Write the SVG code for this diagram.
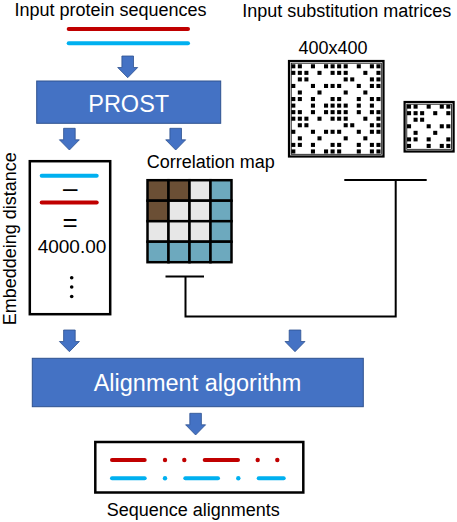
<svg xmlns="http://www.w3.org/2000/svg" xmlns:xlink="http://www.w3.org/1999/xlink" width="457" height="522" viewBox="0 0 457 522">
<style>
text{font-family:"Liberation Sans",Arial,sans-serif;fill:#000}
.lbl{font-size:18px}
.w{fill:#fff;font-size:23.5px}
.bluebox{fill:#4472C4;stroke:#2F528F;stroke-width:1}
.barrow{fill:#4472C4;stroke:#2F528F;stroke-width:0.8}
.frame{fill:#fff;stroke:#000;stroke-width:2.5}
.red{stroke:#C00000;stroke-width:4;stroke-linecap:round;fill:none}
.blue{stroke:#00B0F0;stroke-width:4;stroke-linecap:round;fill:none}
.rd{fill:#C00000}
.bd{fill:#00B0F0}
.wire{stroke:#000;stroke-width:2;fill:none}
.br{fill:#6B4F35}.gy{fill:#E7E7E7}.tl{fill:#6DA9BE}
.cell rect{stroke:#000;stroke-width:2.5}
.dots use{fill:#000}
</style>
<defs>
<path id="arr" class="barrow" d="M-5.8,0 H5.8 V11.5 H10 L0,21.7 L-10,11.5 H-5.8 Z"/>
<rect id="d" width="0.62" height="0.62"/>
</defs>
<rect width="457" height="522" fill="#fff"/>

<g id="input-sequences">
<text class="lbl" x="110.5" y="16" text-anchor="middle">Input protein sequences</text>
<line class="red" x1="68.7" y1="29" x2="188" y2="29"/>
<line class="blue" x1="68.7" y1="43.3" x2="188" y2="43.3"/>
</g>

<g id="input-matrices">
<text class="lbl" x="346.7" y="16.7" text-anchor="middle">Input substitution matrices</text>
</g>

<g id="matrix-400">
<text class="lbl" x="333" y="54" text-anchor="middle">400x400</text>
<rect x="289" y="61" width="94.5" height="95.5" fill="#fff" stroke="#000" stroke-width="2.2"/>
<rect x="291.2" y="63.2" width="90.1" height="91.1" fill="none" stroke="#000" stroke-width="0.8"/>
<g class="dots" transform="translate(291.27,64.27) scale(6.55)">
<use href="#d" x="0" y="0"/><use href="#d" x="1" y="0"/><use href="#d" x="3" y="0"/><use href="#d" x="5" y="0"/><use href="#d" x="6" y="0"/><use href="#d" x="7" y="0"/><use href="#d" x="8" y="0"/><use href="#d" x="10" y="0"/><use href="#d" x="12" y="0"/><use href="#d" x="13" y="0"/>
<use href="#d" x="0" y="1"/><use href="#d" x="1" y="1"/><use href="#d" x="2" y="1"/><use href="#d" x="4" y="1"/><use href="#d" x="6" y="1"/><use href="#d" x="7" y="1"/><use href="#d" x="8" y="1"/><use href="#d" x="11" y="1"/><use href="#d" x="13" y="1"/>
<use href="#d" x="1" y="2"/><use href="#d" x="2" y="2"/><use href="#d" x="8" y="2"/><use href="#d" x="9" y="2"/><use href="#d" x="12" y="2"/><use href="#d" x="13" y="2"/>
<use href="#d" x="0" y="3"/><use href="#d" x="3" y="3"/><use href="#d" x="5" y="3"/><use href="#d" x="6" y="3"/><use href="#d" x="7" y="3"/><use href="#d" x="10" y="3"/><use href="#d" x="12" y="3"/><use href="#d" x="13" y="3"/>
<use href="#d" x="1" y="4"/><use href="#d" x="4" y="4"/><use href="#d" x="8" y="4"/><use href="#d" x="11" y="4"/>
<use href="#d" x="0" y="5"/><use href="#d" x="1" y="5"/><use href="#d" x="3" y="5"/><use href="#d" x="6" y="5"/><use href="#d" x="7" y="5"/><use href="#d" x="10" y="5"/><use href="#d" x="12" y="5"/><use href="#d" x="13" y="5"/>
<use href="#d" x="0" y="6"/><use href="#d" x="3" y="6"/><use href="#d" x="5" y="6"/><use href="#d" x="6" y="6"/><use href="#d" x="7" y="6"/><use href="#d" x="8" y="6"/><use href="#d" x="10" y="6"/><use href="#d" x="12" y="6"/>
<use href="#d" x="0" y="7"/><use href="#d" x="1" y="7"/><use href="#d" x="3" y="7"/><use href="#d" x="5" y="7"/><use href="#d" x="6" y="7"/><use href="#d" x="7" y="7"/><use href="#d" x="8" y="7"/><use href="#d" x="10" y="7"/><use href="#d" x="12" y="7"/><use href="#d" x="13" y="7"/>
<use href="#d" x="0" y="8"/><use href="#d" x="1" y="8"/><use href="#d" x="2" y="8"/><use href="#d" x="4" y="8"/><use href="#d" x="6" y="8"/><use href="#d" x="7" y="8"/><use href="#d" x="8" y="8"/><use href="#d" x="11" y="8"/><use href="#d" x="13" y="8"/>
<use href="#d" x="1" y="9"/><use href="#d" x="2" y="9"/><use href="#d" x="8" y="9"/><use href="#d" x="9" y="9"/><use href="#d" x="12" y="9"/><use href="#d" x="13" y="9"/>
<use href="#d" x="0" y="10"/><use href="#d" x="3" y="10"/><use href="#d" x="5" y="10"/><use href="#d" x="6" y="10"/><use href="#d" x="7" y="10"/><use href="#d" x="10" y="10"/><use href="#d" x="12" y="10"/><use href="#d" x="13" y="10"/>
<use href="#d" x="1" y="11"/><use href="#d" x="4" y="11"/><use href="#d" x="8" y="11"/><use href="#d" x="11" y="11"/>
<use href="#d" x="0" y="12"/><use href="#d" x="1" y="12"/><use href="#d" x="3" y="12"/><use href="#d" x="6" y="12"/><use href="#d" x="7" y="12"/><use href="#d" x="10" y="12"/><use href="#d" x="12" y="12"/><use href="#d" x="13" y="12"/>
<use href="#d" x="0" y="13"/><use href="#d" x="3" y="13"/><use href="#d" x="5" y="13"/><use href="#d" x="6" y="13"/><use href="#d" x="7" y="13"/><use href="#d" x="10" y="13"/><use href="#d" x="12" y="13"/><use href="#d" x="13" y="13"/>
</g>
</g>

<g id="matrix-small">
<rect x="404.6" y="102" width="49" height="49.5" fill="#fff" stroke="#000" stroke-width="2.2"/>
<rect x="406.8" y="104.2" width="44.6" height="45.1" fill="none" stroke="#000" stroke-width="0.8"/>
<g class="dots" transform="translate(407,104.6) scale(6.55)">
<use href="#d" x="0" y="0"/><use href="#d" x="1" y="0"/><use href="#d" x="3" y="0"/><use href="#d" x="5" y="0"/><use href="#d" x="6" y="0"/>
<use href="#d" x="0" y="1"/><use href="#d" x="1" y="1"/><use href="#d" x="2" y="1"/><use href="#d" x="4" y="1"/><use href="#d" x="6" y="1"/>
<use href="#d" x="1" y="2"/><use href="#d" x="2" y="2"/>
<use href="#d" x="0" y="3"/><use href="#d" x="3" y="3"/><use href="#d" x="5" y="3"/><use href="#d" x="6" y="3"/>
<use href="#d" x="1" y="4"/><use href="#d" x="4" y="4"/>
<use href="#d" x="0" y="5"/><use href="#d" x="1" y="5"/><use href="#d" x="3" y="5"/><use href="#d" x="6" y="5"/>
<use href="#d" x="0" y="6"/><use href="#d" x="3" y="6"/><use href="#d" x="5" y="6"/><use href="#d" x="6" y="6"/>
</g>
</g>

<g id="prost">
<rect class="bluebox" x="36.7" y="81" width="184" height="42.3"/>
<text class="w" x="128.7" y="111.5" text-anchor="middle">PROST</text>
</g>

<g id="embedding-distance">
<text class="lbl" transform="translate(15.6,238.7) rotate(-90)" text-anchor="middle">Embeddeing distance</text>
<rect class="frame" x="29.8" y="161.2" width="80.4" height="153"/>
<line class="blue" x1="41.7" y1="175.7" x2="96.7" y2="175.7"/>
<text x="70.2" y="197" text-anchor="middle" style="font-size:26px">–</text>
<line class="red" x1="41.7" y1="202.6" x2="96.7" y2="202.6"/>
<text x="70" y="231" text-anchor="middle" style="font-size:26px">=</text>
<text x="72" y="252.5" text-anchor="middle" style="font-size:19px">4000.00</text>
<circle cx="71.7" cy="277.7" r="1.8"/>
<circle cx="71.7" cy="287" r="1.8"/>
<circle cx="71.7" cy="296.5" r="1.8"/>
</g>

<g id="correlation-map">
<text class="lbl" x="146.7" y="168.3">Correlation map</text>
<g class="cell">
<rect class="br" x="147.5" y="180.2" width="21" height="20.5"/>
<rect class="br" x="168.5" y="180.2" width="21" height="20.5"/>
<rect class="gy" x="189.5" y="180.2" width="21" height="20.5"/>
<rect class="tl" x="210.5" y="180.2" width="21" height="20.5"/>
<rect class="br" x="147.5" y="200.7" width="21" height="20.5"/>
<rect class="gy" x="168.5" y="200.7" width="21" height="20.5"/>
<rect class="gy" x="189.5" y="200.7" width="21" height="20.5"/>
<rect class="tl" x="210.5" y="200.7" width="21" height="20.5"/>
<rect class="gy" x="147.5" y="221.2" width="21" height="20.5"/>
<rect class="gy" x="168.5" y="221.2" width="21" height="20.5"/>
<rect class="gy" x="189.5" y="221.2" width="21" height="20.5"/>
<rect class="tl" x="210.5" y="221.2" width="21" height="20.5"/>
<rect class="tl" x="147.5" y="241.7" width="21" height="20.5"/>
<rect class="tl" x="168.5" y="241.7" width="21" height="20.5"/>
<rect class="tl" x="189.5" y="241.7" width="21" height="20.5"/>
<rect class="tl" x="210.5" y="241.7" width="21" height="20.5"/>
</g>
</g>

<g id="alignment-algorithm">
<rect class="bluebox" x="32.3" y="358.3" width="331" height="48.4"/>
<text class="w" x="197.5" y="390.7" text-anchor="middle">Alignment algorithm</text>
</g>

<g id="sequence-alignments">
<rect class="frame" x="95.3" y="442" width="208" height="50.5"/>
<line class="red" x1="112" y1="460" x2="144.7" y2="460"/>
<circle class="rd" cx="165" cy="460" r="2.2"/>
<circle class="rd" cx="184.3" cy="460" r="2.2"/>
<line class="red" x1="204.7" y1="460" x2="238" y2="460"/>
<circle class="rd" cx="257.7" cy="460" r="2.2"/>
<circle class="rd" cx="277.3" cy="460" r="2.2"/>
<line class="blue" x1="112" y1="478.3" x2="144.7" y2="478.3"/>
<circle class="bd" cx="165" cy="478.3" r="2.2"/>
<line class="blue" x1="185.3" y1="478.3" x2="218" y2="478.3"/>
<circle class="bd" cx="238.3" cy="478.3" r="2.2"/>
<line class="blue" x1="258.7" y1="478.3" x2="283.7" y2="478.3"/>
<text class="lbl" x="193.3" y="515.7" text-anchor="middle">Sequence alignments</text>
</g>

<g id="connectors">
<use href="#arr" x="127.7" y="56"/>
<use href="#arr" x="69.4" y="128.3"/>
<use href="#arr" x="175.7" y="128.3"/>
<use href="#arr" x="69.4" y="330"/>
<use href="#arr" x="295" y="330"/>
<use href="#arr" x="195.6" y="413.3"/>
<path class="wire" d="M165.5,276.5 H204 M185.5,276.5 V316.5 H395.7 V180 M344.3,180 H426.7"/>
</g>
</svg>
